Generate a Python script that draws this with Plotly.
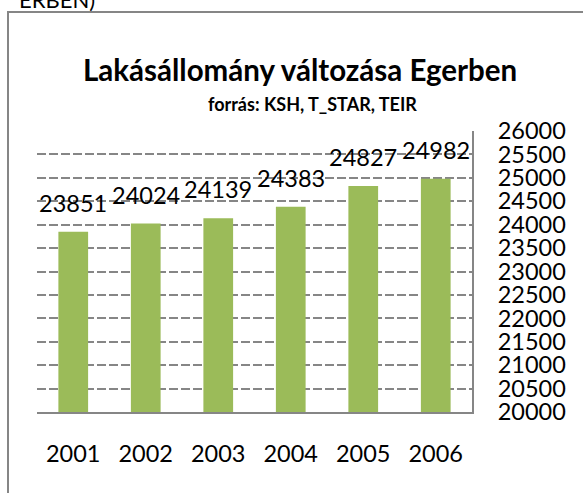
import plotly.graph_objects as go

years = ["2001", "2002", "2003", "2004", "2005", "2006"]
values = [23851, 24024, 24139, 24383, 24827, 24982]
y_ticks = list(range(20000, 26001, 500))

title_text = "Lakásállomány változása Egerben"
subtitle_text = "forrás: KSH, T_STAR, TEIR"
cut_text = "ERBEN)"

W, H = 583, 493
L, R, T, B = 37, 111, 131, 81
PW, PH = W - L - R, H - T - B


def px(x):
    return (x - L) / PW


def py(y):
    return (H - B - y) / PH


FONT = "Lato"
GRAY = "#868686"
FS = 23.5

fig = go.Figure()
fig.add_trace(go.Bar(
    x=years, y=values, marker_color="#9BBB59", width=0.41,
    marker_line_width=0, showlegend=False, hoverinfo="skip",
))

annotations = []
for i, v in enumerate(values):
    annotations.append(dict(
        x=i, y=v, xref="x", yref="y", text=str(v), showarrow=False,
        yanchor="bottom", yshift=13, font=dict(family=FONT, size=FS, color="#000000"),
    ))

annotations.append(dict(
    x=px(300), y=py(70), xref="paper", yref="paper", text="<b>" + title_text + "</b>",
    showarrow=False, xanchor="center", yanchor="middle",
    font=dict(family=FONT, size=29.5, color="#000000"),
))
annotations.append(dict(
    x=px(312), y=py(104), xref="paper", yref="paper", text="<b>" + subtitle_text + "</b>",
    showarrow=False, xanchor="center", yanchor="middle",
    font=dict(family=FONT, size=18, color="#000000"),
))
annotations.append(dict(
    x=px(97), y=py(-1), xref="paper", yref="paper", text=cut_text,
    showarrow=False, xanchor="right", yanchor="middle",
    font=dict(family=FONT, size=22, color="#000000"),
))

shapes = [dict(
    type="rect", xref="paper", yref="paper",
    x0=px(8), x1=px(700), y0=py(700), y1=py(12),
    line=dict(color=GRAY, width=2), fillcolor="rgba(0,0,0,0)", layer="below",
)]

fig.update_layout(
    width=W, height=H, autosize=False,
    margin=dict(l=L, r=R, t=T, b=B, pad=0),
    paper_bgcolor="white", plot_bgcolor="white",
    annotations=annotations, shapes=shapes,
    xaxis=dict(
        type="category", range=[-0.5, len(years) - 0.5], categoryorder="array",
        categoryarray=years, showgrid=False, showline=True, linecolor=GRAY, linewidth=2,
        ticks="", tickfont=dict(family=FONT, size=FS, color="#000000"),
        ticklabelstandoff=20, zeroline=False, fixedrange=True,
    ),
    yaxis=dict(
        side="right", range=[20000, 26000], tickvals=y_ticks,
        ticktext=[str(t) for t in y_ticks],
        showgrid=True, gridcolor=GRAY, gridwidth=1.5, griddash="9px,3px",
        showline=True, linecolor=GRAY, linewidth=2, zeroline=False,
        ticks="", tickfont=dict(family=FONT, size=FS, color="#000000"),
        ticklabelstandoff=19, fixedrange=True,
    ),
)

fig.write_html(
    "out.html",
    config={"displayModeBar": False},
    post_script="document.body.style.margin='0';document.body.style.overflow='hidden';",
)
